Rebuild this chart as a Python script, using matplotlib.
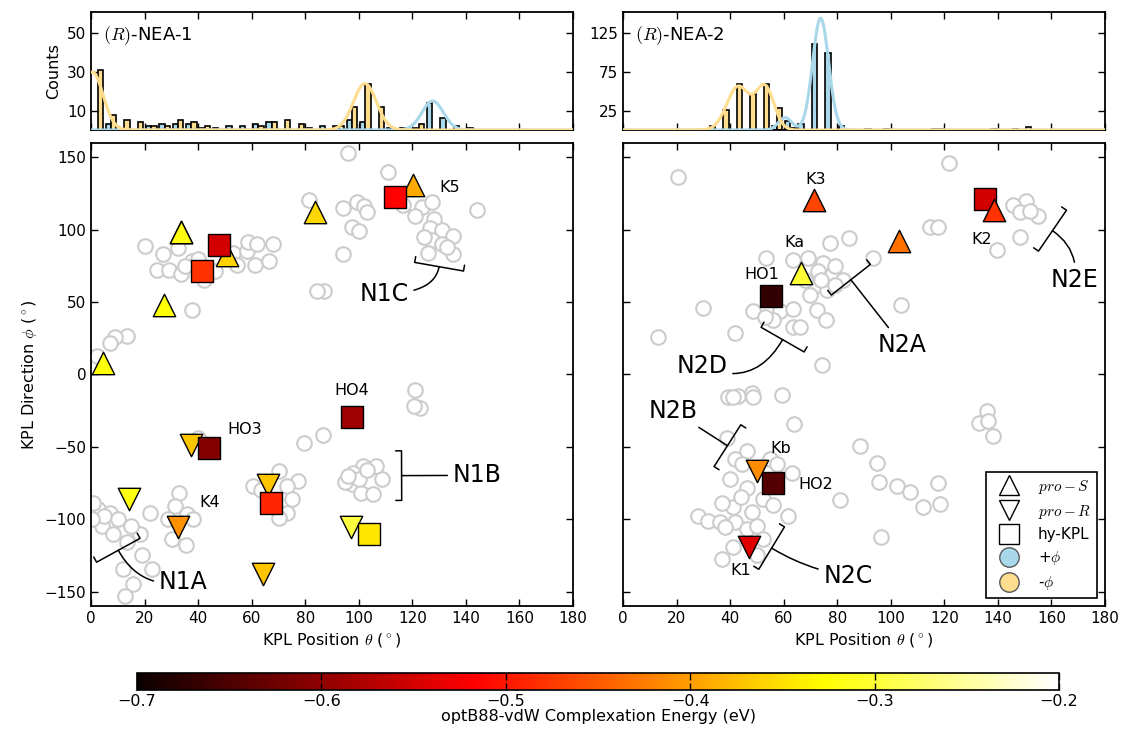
import numpy as np
import matplotlib
matplotlib.use("Agg")
import matplotlib.pyplot as plt
from matplotlib.lines import Line2D
from matplotlib.cm import ScalarMappable
from matplotlib.colors import Normalize

plt.rcParams['mathtext.fontset'] = 'cm'
plt.rcParams['xtick.direction'] = 'in'
plt.rcParams['ytick.direction'] = 'in'
plt.rcParams['xtick.top'] = True
plt.rcParams['ytick.right'] = True
plt.rcParams['xtick.major.size'] = 5
plt.rcParams['ytick.major.size'] = 5
plt.rcParams['xtick.major.width'] = 1
plt.rcParams['ytick.major.width'] = 1
plt.rcParams['axes.linewidth'] = 1.3
plt.rcParams['font.size'] = 11

BLUE = '#a9d8ea'
ORANGE = '#fedd8e'
GREY = '#cccccc'
EMIN, EMAX = -0.7, -0.2

# ---- histogram data: counts per 5 degree bin of theta (36 bins) ----
bin_edges = np.arange(0, 181, 5)
nea1_plus = [0, 3, 0, 0, 2, 3, 3, 3, 1, 1, 2, 2, 3, 4, 0, 0, 1, 2,
             2, 5, 4, 0, 1, 1, 1, 14, 6, 2, 1, 0, 0, 0, 0, 0, 0, 0]
nea1_minus = [31, 8, 5, 4, 2, 2, 5, 4, 2, 0, 0, 0, 2, 4, 5, 3, 0, 0,
              2, 12, 24, 12, 0, 0, 3, 0, 0, 0, 0, 0, 0, 0, 0, 0, 0, 0]
nea2_plus = [0, 0, 0, 0, 0, 0, 0, 0, 0, 0, 0, 5, 12, 8, 111, 99, 5, 0,
             1, 0, 0, 0, 0, 1, 0, 0, 0, 0, 0, 1, 4, 0, 0, 0, 0, 0]
nea2_minus = [0, 0, 0, 0, 0, 0, 5, 26, 59, 46, 59, 28, 3, 0, 0, 0, 0, 0,
              0, 1, 0, 0, 0, 1, 0, 0, 0, 1, 0, 0, 0, 0, 0, 0, 0, 0]

# fitted peaks drawn over the histograms: (centre, height, width)
nea1_plus_fit = [(127.6, 15, 4.0)]
nea1_minus_fit = [(0.5, 30, 4.0), (102.3, 24, 4.3)]
nea2_plus_fit = [(60.5, 16, 2.5), (73.8, 144, 3.0)]
nea2_minus_fit = [(43.0, 56, 4.2), (53.0, 55, 3.4)]

# ---- scatter data: grey circles (all sampled configurations) ----
nea1_theta = [96.1, 111, 81.5, 94.2, 99.2, 101.9, 103.2, 97.3, 100.2, 94.2, 87.1, 84.3,
              116.6, 123.5, 127.2, 121, 128.1, 126.6, 131, 135.3, 127.2, 126, 135.3, 144,
              131, 124.5, 133,
              20.2, 26.8, 32.6, 24.8, 29.2, 33.6, 37.6, 42.2, 46.3, 53.1, 54.4, 58.1, 58.7,
              61.9, 61.2, 66.6, 68.1, 37.6, 35, 40,
              13.3, 9, 7.1, 2.1,
              121, 122.9, 120.5, 79.5, 86.5, 40.1,
              101.7, 98, 108.5, 97.3, 101, 105.4, 94.8, 106.6, 100, 103, 96,
              70.3, 77.4, 73.1, 60.6, 74.9, 73.1, 70.2, 63.5,
              33, 31.4, 35.7, 28.9, 30.1, 35.5, 38,
              7.1, 2.7, 4, 8.3, 18.3, 22, 13.3, 18.9, 12.1, 22.7, 15.8, 12.7, 0.9, 5, 10, 15, 0.5]
nea1_phi = [153.3, 139.8, 120.7, 115.4, 119.5, 116.6, 112.6, 101.8, 99.5, 83.4, 57.5, 57.5,
            117.2, 116.1, 119.5, 109.7, 107.8, 101.1, 100, 95.4, 93.1, 83.9, 83.4, 113.8,
            90, 95, 88,
            89, 83.4, 87.4, 72.4, 71.9, 69.7, 78.2, 65.5, 71.3, 83.9, 75.9, 85.5, 91.9,
            90.3, 75.9, 78.2, 90.1, 44.4, 75, 80,
            26.4, 26, 21.8, 12.6,
            -10.8, -23, -22, -47.6, -41.8, -43.7,
            -63.2, -68, -72.4, -75.9, -81.6, -82.8, -74, -63.2, -72, -66, -70,
            -66.7, -73.6, -77, -77, -86.2, -95.4, -98.9, -80,
            -82, -90.8, -96.6, -100, -113.8, -117.9, -100,
            -95.4, -93.1, -104.6, -110.3, -110.3, -95.4, -116, -124.8, -134.5, -134.5,
            -144.8, -152.9, -88.5, -98, -100, -105, -100]

nea2_theta = [20.4, 121.9, 150.5, 145.8, 148.2, 155.1, 152, 148.2, 139.5, 114.6, 117.7,
              93.5, 103.7, 84.5, 77.3,
              63.6, 53.4, 69.2, 74.8, 72.9, 77.9, 82.3, 71.7, 76.1, 72.3, 75.8, 68, 74, 79,
              70, 79,
              48.7, 58.6, 63.6, 56.1, 63.4, 66, 53,
              30, 41.8, 13, 74.2,
              39.3, 43.1, 48.1, 48.7, 59.3, 41, 64, 38.7, 46.2, 41.8, 44.3, 54.9, 57.4, 63,
              40, 46.2, 52.4, 61.5, 28.1, 31.9, 36.2, 41.8, 38.1, 46.2, 49.9, 41.2, 36.9,
              52.4, 41.2, 36.9, 48, 56, 44, 50,
              81, 88.5, 94.7, 95.7, 102.2, 107.2, 112.1, 117.7, 118.4, 96.2,
              135.8, 133.1, 136.4, 138.3]
nea2_phi = [136.3, 146.4, 120.2, 117.2, 112.6, 109.7, 113, 94.9, 86.2, 101.8, 101.8,
            80.5, 47.8, 94, 90.8,
            79.3, 80.5, 80.5, 77, 71.3, 69, 65.5, 60.9, 58.6, 44.8, 37.9, 65, 65, 75,
            55, 62,
            43.7, 43.7, 45.3, 37.9, 32.6, 33, 40,
            46, 28.8, 26, 6.9,
            -15.4, -15, -12.6, -15.4, -14.5, -15.5, -34.5, -43.7, -52.9, -58.6, -62, -58.6,
            -62, -67.8,
            -72.4, -78.2, -86.2, -97.7, -97.7, -101.1, -102.3, -101.9, -105.7, -106.9,
            -104.6, -91.9, -88.5,
            -113.8, -119.5, -127.6, -95, -90, -85, -125,
            -86.7, -49.4, -60.9, -74, -77, -81.2, -91.9, -75.2, -89.7, -112.6,
            -25.3, -33.3, -32.2, -42.5]

# ---- selected configurations coloured by complexation energy (eV) ----
# ^ = pro-S, v = pro-R, s = hy-KPL (drawn in list order)
nea1_sel_shape = ['^', '^', '^', '^', '^', '^', '^', 'v', 'v', 'v', 'v', 'v', 'v',
                  's', 's', 's', 's', 's', 's', 's']
nea1_sel_theta = [33.6, 50.7, 27.4, 4.6, 83.6, 120.4, 33.6, 37.2, 14.2, 32.4, 66, 97.1, 64.3,
                  47.8, 41.3, 113.5, 97.3, 44.1, 67.2, 103.9]
nea1_sel_phi = [98.8, 82.8, 47.8, 7.6, 112.6, 131, 98.8, -49, -86.2, -105.3, -76.6, -105.3,
                -137.9, 89.7, 71.3, 123, -29.4, -51, -88.5, -110.3]
nea1_sel_energy = [-0.32, -0.36, -0.325, -0.325, -0.357, -0.39, -0.32, -0.37, -0.32, -0.41,
                   -0.37, -0.295, -0.37, -0.55, -0.48, -0.515, -0.59, -0.61, -0.49, -0.346]

nea2_sel_shape = ['s', 's', 's', '^', '^', '^', '^', 'v', 'v']
nea2_sel_theta = [135.2, 55.1, 56.1, 71.3, 138.7, 102.9, 66.6, 49.9, 47.2]
nea2_sel_phi = [121.2, 54, -75.2, 120.7, 113.8, 92, 70.1, -66.7, -119.5]
nea2_sel_energy = [-0.55, -0.67, -0.645, -0.466, -0.48, -0.433, -0.30, -0.413, -0.54]

nea1_names = ['K5', 'HO3', 'HO4', 'K4']
nea1_name_pos = [(134, 129), (57.5, -38), (97.3, -10.8), (44.4, -88.5)]
nea2_names = ['K3', 'K2', 'Ka', 'HO1', 'Kb', 'HO2', 'K1']
nea2_name_pos = [(72, 135), (133.9, 93.6), (63.9, 91.3), (51.8, 69), (58.9, -51),
                 (72.1, -75.9), (44.1, -135.2)]

# cluster brackets: name, text position, bracket centre, connector shape
nea1_groups = [('N1C', (109.4, 55.9), (130, 74.5), 'angle3,angleA=0,angleB=80'),
               ('N1B', (144.3, -69.7), (116, -69.9), 'arc3,rad=0'),
               ('N1A', (34.5, -143.7), (10.2, -121.5), 'arc3,rad=-0.35')]
nea2_groups = [('N2A', (104.1, 20.7), (85.1, 65.5), 'arc3,rad=0'),
               ('N2D', (29.4, 5.7), (59.6, 24.1), 'arc3,rad=0.45'),
               ('N2B', (18.8, -25.3), (39, -49.2), 'arc3,rad=0'),
               ('N2C', (84.1, -139.2), (55.5, -120), 'arc3,rad=-0.1'),
               ('N2E', (168.8, 65.5), (160.4, 99.4), 'arc3,rad=0.3')]


def fit_curve(x, peaks):
    y = np.zeros_like(x)
    for c, h, w in peaks:
        y += h * np.exp(-(x - c) ** 2 / (2 * w ** 2))
    return y


def draw_hist(ax, plus, minus, plus_fit, minus_fit, ymax, yticks, title):
    centers = bin_edges[:-1] + 2.5
    ax.hist([centers, centers], bins=bin_edges, weights=[plus, minus],
            color=[BLUE, ORANGE], edgecolor='k', linewidth=1.2)
    x = np.linspace(0, 180, 1441)
    ax.plot(x, fit_curve(x, plus_fit), color=BLUE, lw=2.2, zorder=3)
    ax.plot(x, fit_curve(x, minus_fit), color=ORANGE, lw=2.2, zorder=3)
    ax.set_xlim(0, 180)
    ax.set_ylim(0, ymax)
    ax.set_xticks(np.arange(0, 181, 20))
    ax.set_xticklabels([])
    ax.set_yticks(yticks)
    ax.text(0.025, 0.8, title, transform=ax.transAxes, fontsize=13, va='center')


def draw_map(ax, th, ph, shapes, sth, sph, sen, names, name_pos, groups):
    ax.scatter(th, ph, s=110, facecolor='white', edgecolor=GREY, linewidth=1.5, zorder=2)
    for m, t, p, e in zip(shapes, sth, sph, sen):
        ax.scatter([t], [p], c=[e], cmap='hot', vmin=EMIN, vmax=EMAX, marker=m,
                   s=260, edgecolor='k', linewidth=1, zorder=4)
    for n, (x, y) in zip(names, name_pos):
        ax.text(x, y, n, fontsize=11.5, ha='center', va='center', zorder=5)
    for n, txt_xy, br_xy, conn in groups:
        ax.annotate(n, xy=br_xy, xytext=txt_xy, fontsize=17, ha='center', va='center',
                    zorder=5,
                    arrowprops=dict(arrowstyle='-[, widthB=1.05, lengthB=0.25',
                                    connectionstyle=conn,
                                    color='k', lw=1.1, shrinkA=2, shrinkB=0))
    ax.set_xlim(0, 180)
    ax.set_ylim(-160, 160)
    ax.set_xticks(np.arange(0, 181, 20))
    ax.set_yticks(np.arange(-150, 151, 50))
    ax.set_xlabel(r'KPL Position $\theta$ ($^\circ$)', fontsize=11.5)


fig = plt.figure(figsize=(11.25, 7.3), dpi=100)
h1 = fig.add_axes([0.0809, 0.8219, 0.4284, 0.1616])
h2 = fig.add_axes([0.5538, 0.8219, 0.4284, 0.1616])
a1 = fig.add_axes([0.0809, 0.1699, 0.4284, 0.6342])
a2 = fig.add_axes([0.5538, 0.1699, 0.4284, 0.6342])
cax = fig.add_axes([0.1218, 0.0548, 0.8196, 0.0233])

draw_hist(h1, nea1_plus, nea1_minus, nea1_plus_fit, nea1_minus_fit, 61, [10, 30, 50],
          r'$(R)$-NEA-1')
draw_hist(h2, nea2_plus, nea2_minus, nea2_plus_fit, nea2_minus_fit, 152, [25, 75, 125],
          r'$(R)$-NEA-2')
h1.set_ylabel('Counts', fontsize=11.5)

draw_map(a1, nea1_theta, nea1_phi, nea1_sel_shape, nea1_sel_theta, nea1_sel_phi,
         nea1_sel_energy, nea1_names, nea1_name_pos, nea1_groups)
draw_map(a2, nea2_theta, nea2_phi, nea2_sel_shape, nea2_sel_theta, nea2_sel_phi,
         nea2_sel_energy, nea2_names, nea2_name_pos, nea2_groups)
a1.set_ylabel(r'KPL Direction $\phi$ ($^\circ$)', fontsize=11.5)
a2.set_yticklabels([])

handles = [Line2D([], [], ls='none', marker='^', ms=14, mfc='white', mec='k', mew=1),
           Line2D([], [], ls='none', marker='v', ms=14, mfc='white', mec='k', mew=1),
           Line2D([], [], ls='none', marker='s', ms=14, mfc='white', mec='k', mew=1),
           Line2D([], [], ls='none', marker='o', ms=14, mfc=BLUE, mec='0.35', mew=1),
           Line2D([], [], ls='none', marker='o', ms=14, mfc=ORANGE, mec='0.35', mew=1)]
labels = [r'$pro-S$', r'$pro-R$', 'hy-KPL', r'+$\phi$', r'-$\phi$']
leg = a2.legend(handles, labels, loc='lower right', fontsize=11, fancybox=False,
                framealpha=1, edgecolor='k', borderaxespad=0.5, handletextpad=0.8,
                labelspacing=0.45, handlelength=2.2)
leg.get_frame().set_linewidth(1.2)

sm = ScalarMappable(norm=Normalize(EMIN, EMAX), cmap='hot')
cb = fig.colorbar(sm, cax=cax, orientation='horizontal',
                  ticks=[-0.7, -0.6, -0.5, -0.4, -0.3, -0.2])
cb.outline.set_linewidth(1.2)
cax.tick_params(direction='in', top=True, bottom=True, length=5, labelsize=11.5, pad=3)
cb.set_label('optB88-vdW Complexation Energy (eV)', fontsize=11.5, labelpad=0)

fig.savefig('out.png', dpi=100)
